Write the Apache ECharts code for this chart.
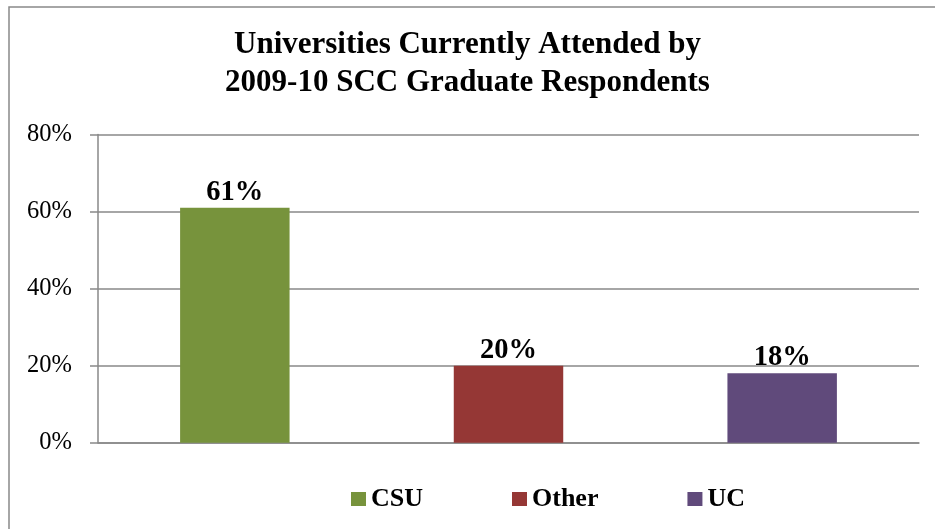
<!DOCTYPE html>
<html>
<head>
<meta charset="utf-8">
<title>Universities Currently Attended</title>
<script src="https://cdn.jsdelivr.net/npm/echarts@6/dist/echarts.min.js"></script>
<style>
  html, body { margin: 0; padding: 0; background: #fff; }
  #chart { width: 935px; height: 529px; }
</style>
</head>
<body>
<div id="chart"></div>
<script>
// 数据
const categories = ['CSU', 'Other', 'UC']
const percentValues = [61, 20, 18]
const barColors = ['#77933C', '#953735', '#604A7B']
const yTicks = [0, 20, 40, 60, 80]

const serif = "'Liberation Serif', 'Times New Roman', serif"
const gray = '#898989'

const chart = echarts.init(document.getElementById('chart'))

// one series per university so each gets its own legend entry
const series = categories.map((name, i) => ({
  name: name,
  type: 'bar',
  stack: 'all',
  barWidth: '40%',
  data: categories.map((_, j) => (j === i ? percentValues[i] : null)),
  itemStyle: { color: barColors[i] },
  label: {
    show: true,
    position: 'top',
    distance: 1,
    formatter: '{c}%',
    fontFamily: serif,
    fontWeight: 'bold',
    fontSize: 28.5,
    color: '#000'
  }
}))

const option = {
  backgroundColor: '#fff',
  animation: false,
  title: {
    text: 'Universities Currently Attended by\n2009-10 SCC Graduate Respondents',
    left: 'center',
    top: 21,
    textStyle: {
      fontFamily: serif,
      fontWeight: 'bold',
      fontSize: 31,
      lineHeight: 38,
      color: '#000'
    }
  },
  legend: {
    data: categories,
    left: 346,
    top: 481,
    itemWidth: 15,
    itemHeight: 14,
    itemGap: 89,
    icon: 'rect',
    textStyle: {
      fontFamily: serif,
      fontWeight: 'bold',
      fontSize: 26,
      color: '#000'
    }
  },
  grid: { left: 98, right: 16, top: 134.5, bottom: 86.3 },
  xAxis: {
    type: 'category',
    data: categories,
    axisLine: { show: true, lineStyle: { color: gray, width: 1.5 } },
    axisTick: { show: false },
    axisLabel: { show: false }
  },
  yAxis: {
    type: 'value',
    min: yTicks[0],
    max: yTicks[yTicks.length - 1],
    interval: 20,
    axisLine: { show: true, lineStyle: { color: gray, width: 1.5 } },
    axisTick: { show: true, length: 8, lineStyle: { color: gray, width: 1.5 } },
    axisLabel: {
      formatter: '{value}%',
      margin: 26,
      fontFamily: serif,
      fontSize: 24.5,
      color: '#000'
    },
    splitLine: { lineStyle: { color: gray, width: 1.5 } }
  },
  graphic: [
    {
      type: 'rect',
      silent: true,
      shape: { x: 9, y: 7, width: 1000, height: 1000 },
      style: { fill: 'none', stroke: gray, lineWidth: 1.5 }
    }
  ],
  series: series
}

chart.setOption(option)
</script>
</body>
</html>
